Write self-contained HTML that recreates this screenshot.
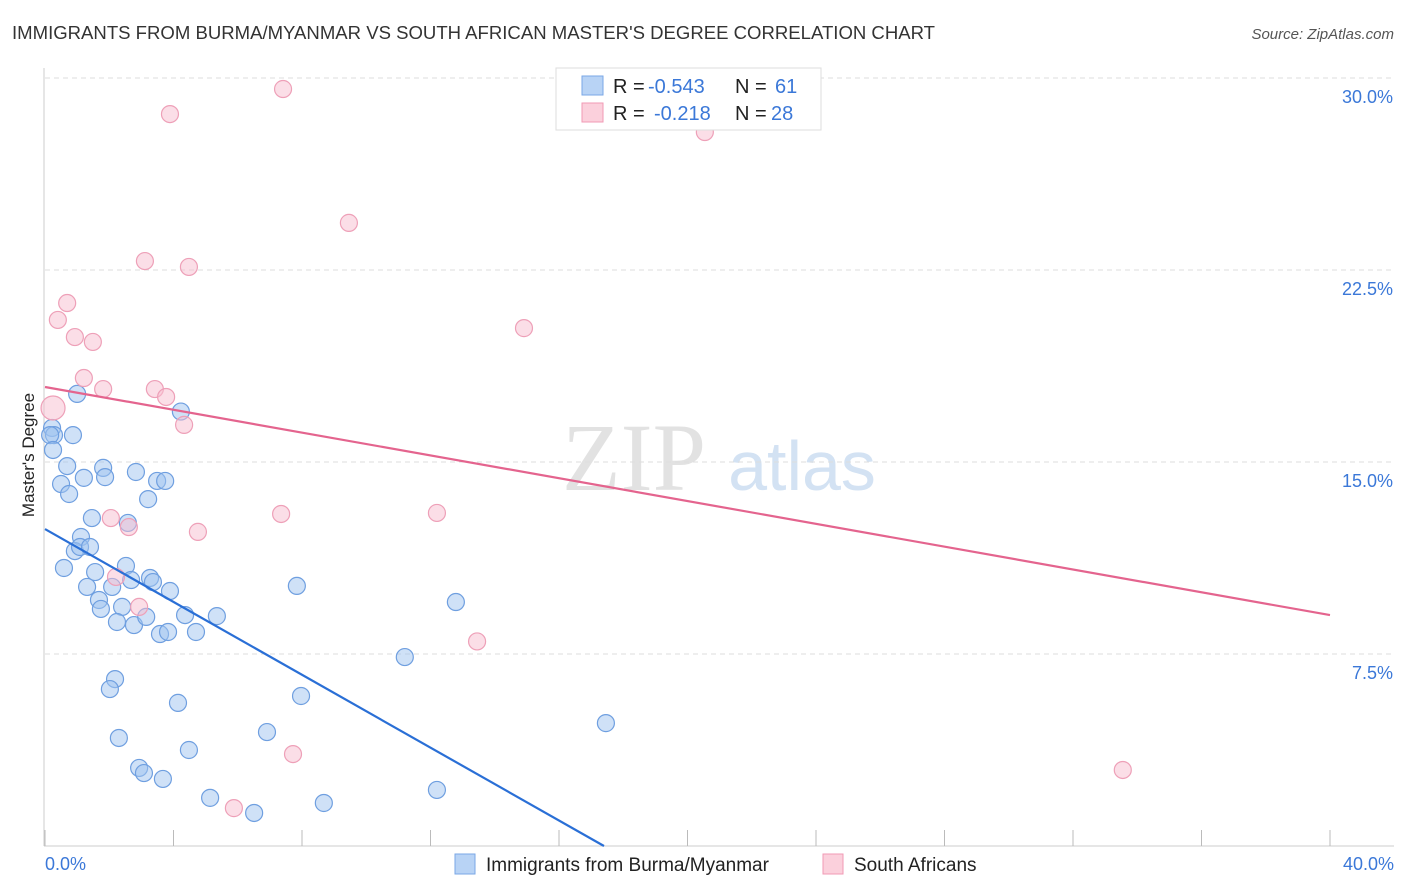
<!DOCTYPE html>
<html><head><meta charset="utf-8"><style>
body{margin:0;background:#fff;font-family:"Liberation Sans",sans-serif;}
svg{display:block}
</style></head><body>
<svg width="1406" height="892" id="c">
<text x="12" y="39" font-size="18" fill="#333" textLength="923" lengthAdjust="spacingAndGlyphs">IMMIGRANTS FROM BURMA/MYANMAR VS SOUTH AFRICAN MASTER'S DEGREE CORRELATION CHART</text>
<text x="1394" y="39" font-size="15" fill="#555" text-anchor="end" font-style="italic">Source: ZipAtlas.com</text>
<text x="634" y="490" font-size="96" fill="#e2e2e2" font-family="Liberation Serif,serif" text-anchor="middle">ZIP</text>
<text x="802" y="490" font-size="70" fill="#d3e2f3" text-anchor="middle">atlas</text>
<g id="grid"></g><g id="pts"></g><g id="lines"></g>
<text x="34" y="455" font-size="17" fill="#222" text-anchor="middle" transform="rotate(-90 34 455)">Master's Degree</text>
<text x="45" y="870" font-size="18" fill="#3b78d8">0.0%</text>
<text x="1394" y="870" font-size="18" fill="#3b78d8" text-anchor="end">40.0%</text>
<g font-size="20">
<rect x="556" y="68" width="265" height="62" fill="#fff" stroke="#ddd"/>
<rect x="582" y="76" width="21" height="19" fill="#b8d3f5" stroke="#7aa7e6"/>
<rect x="582" y="103" width="21" height="19" fill="#fbd0dc" stroke="#f09ab4"/>
<text x="613" y="93" fill="#222">R =</text><text x="648" y="93" fill="#3b78d8">-0.543</text>
<text x="735" y="93" fill="#222">N =</text><text x="775" y="93" fill="#3b78d8">61</text>
<text x="613" y="120" fill="#222">R =</text><text x="654" y="120" fill="#3b78d8">-0.218</text>
<text x="735" y="120" fill="#222">N =</text><text x="771" y="120" fill="#3b78d8">28</text>
</g>
<g>
<rect x="455" y="854" width="20" height="20" fill="#b8d3f5" stroke="#7aa7e6"/>
<text x="486" y="871" font-size="19" fill="#222">Immigrants from Burma/Myanmar</text>
<rect x="823" y="854" width="20" height="20" fill="#fbd0dc" stroke="#f09ab4"/>
<text x="854" y="871" font-size="19" fill="#222">South Africans</text>
</g>
</svg>
<script>
const blueX=[1.0,0.22,0.28,0.16,0.87,0.25,0.69,0.5,0.75,1.21,1.81,1.87,2.83,3.49,3.74,3.21,4.23,1.46,2.58,1.12,0.93,1.09,1.4,0.59,1.56,2.52,3.27,3.36,3.89,1.31,2.09,2.68,1.68,1.74,2.4,2.24,2.77,3.15,3.58,3.83,4.36,4.7,5.35,7.84,12.79,11.2,2.18,2.02,4.14,7.97,17.46,6.91,2.3,4.48,2.93,3.08,3.67,5.14,6.51,8.68,12.2];
const blueY=[17.66,16.33,16.05,16.05,16.05,15.47,14.84,14.14,13.75,14.38,14.77,14.41,14.61,14.26,14.26,13.55,16.97,12.81,12.62,12.07,11.52,11.68,11.68,10.86,10.7,10.94,10.47,10.31,9.96,10.12,10.12,10.39,9.61,9.26,9.34,8.75,8.63,8.95,8.28,8.36,9.02,8.36,8.98,10.16,9.53,7.38,6.52,6.13,5.59,5.86,4.8,4.45,4.22,3.75,3.05,2.85,2.62,1.88,1.29,1.68,2.19];
const pinkX=[7.41,3.89,20.54,9.46,3.11,4.48,0.69,0.40,0.93,1.49,14.91,1.21,1.81,3.42,3.77,4.33,0.25,2.05,2.61,4.76,7.35,12.2,2.21,2.93,13.45,7.72,5.88,33.55];
const pinkY=[29.57,28.59,27.89,24.34,22.85,22.62,21.21,20.55,19.88,19.69,20.23,18.28,17.85,17.85,17.54,16.45,17.11,12.81,12.46,12.27,12.97,13.01,10.51,9.34,7.99,3.59,1.48,2.97];
const blueTrend=[12.38,0],blueTrendX=[0,17.4];
const pinkTrend=[17.93,9.02],pinkTrendX=[0,40];
const yTicks=[7.5,15,22.5,30],yTickLabels=["7.5%","15.0%","22.5%","30.0%"];
const xTicks=[0,4,8,12,16,20,24,28,32,36,40];
const X=v=>45+v/40*1285, Y=v=>846-v*25.6;
const NS="http://www.w3.org/2000/svg";
function mk(p,t,a){const e=document.createElementNS(NS,t);for(const k in a)e.setAttribute(k,a[k]);p.appendChild(e);return e;}
const g=document.getElementById('grid');
let e=mk(g,'line',{x1:44,y1:68,x2:44,y2:846,stroke:'#ccc'});


e=mk(g,'line',{x1:44,y1:846,x2:1394,y2:846,stroke:'#ccc'});


yTicks.forEach((v,i)=>{
 e=mk(g,'line',{x1:45,y1:Y(v),x2:1394,y2:Y(v),stroke:'#ddd','stroke-dasharray':'5,4'});
 
 
 e=mk(g,'text',{x:1393,y:Y(v)+25,'font-size':18,fill:'#3b78d8','text-anchor':'end'});
 e.textContent=yTickLabels[i];
 
 
});
xTicks.forEach(v=>{
 e=mk(g,'line',{x1:X(v),y1:830,x2:X(v),y2:846,stroke:'#bbb'});
 
 
});
const p=document.getElementById('pts');
blueX.forEach((v,i)=>{
 e=mk(p,'circle',{cx:X(v),cy:Y(blueY[i]),r:8.5,fill:'rgba(160,196,240,0.5)',stroke:'#6f9fe0','stroke-width':1.2});
 
 
});
pinkX.forEach((v,i)=>{
 e=mk(p,'circle',{cx:X(v),cy:Y(pinkY[i]),r:i==16?12:8.5,fill:'rgba(248,190,208,0.5)',stroke:'#eea0b8','stroke-width':1.2});
 
 
});
const l=document.getElementById('lines');
e=mk(l,'line',{x1:X(blueTrendX[0]),y1:Y(blueTrend[0]),x2:X(blueTrendX[1]),y2:Y(blueTrend[1]),stroke:'#2a6fd6','stroke-width':2.2});


e=mk(l,'line',{x1:X(pinkTrendX[0]),y1:Y(pinkTrend[0]),x2:X(pinkTrendX[1]),y2:Y(pinkTrend[1]),stroke:'#e4648e','stroke-width':2.2});


</script>
</body></html>
